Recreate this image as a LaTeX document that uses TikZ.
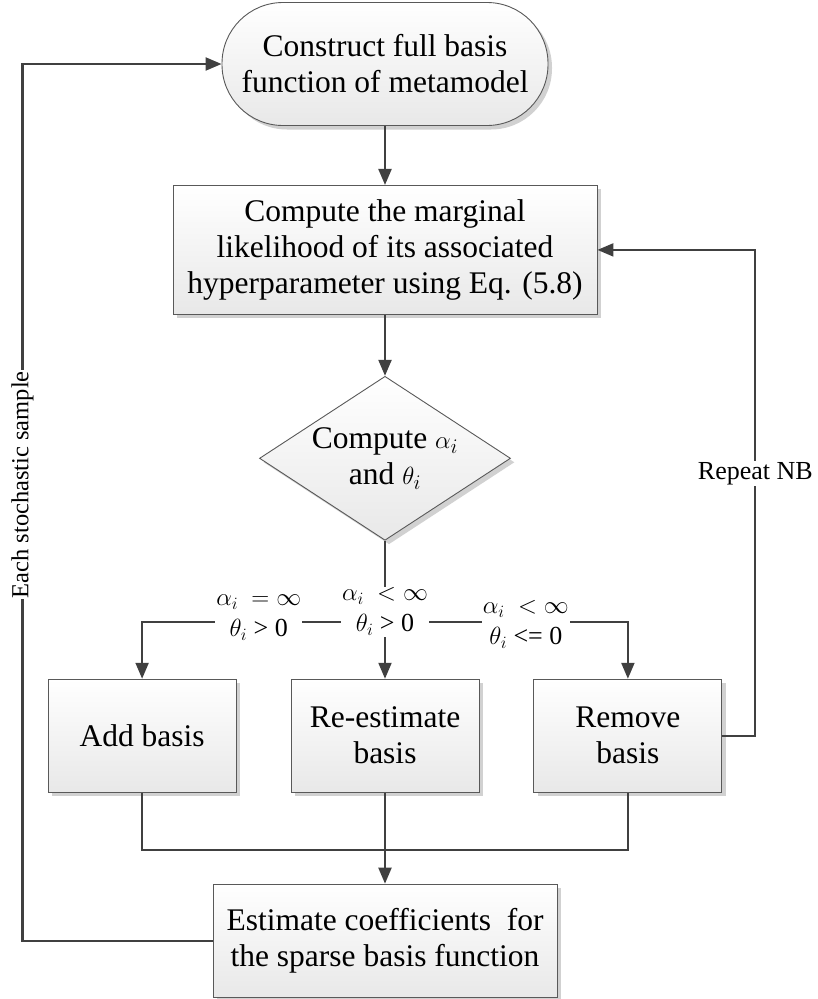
\documentclass[tikz,border=0pt]{standalone}
\usepackage{fontspec}
\setmainfont{Liberation Serif}
\usetikzlibrary{arrows.meta,positioning,shapes.geometric,shadows}

\begin{document}
\begin{tikzpicture}[x=1pt, y=1pt, >={Triangle[length=16pt, width=13pt]},
  line/.style={draw=black!75, line width=2.2pt},
  base/.style={draw=black!65, line width=0.9pt, top color=white, bottom color=black!9, align=center, inner sep=0pt,
    font=\fontsize{31.5}{36}\selectfont, drop shadow={shadow xshift=4pt, shadow yshift=-4pt, fill=black!18, opacity=1}},
  box/.style={base, minimum height=113pt},
  cond/.style={fill=white, inner sep=1pt, align=center, font=\fontsize{26}{31}\selectfont}]
  \useasboundingbox (0,0) rectangle (817,-999);

  \node[base, rounded corners=61pt, minimum width=326pt, minimum height=123pt] (start) at (385,-64) {Construct full basis\\function of metamodel};
  \node[box, minimum width=424pt, minimum height=129pt, below=59pt of start] (lik) {Compute the marginal\\likelihood of its associated\\hyperparameter using Eq. (5.8)};
  \node[base, diamond, aspect=1.53, minimum width=251pt, minimum height=164pt, below=61pt of lik] (dec) {Compute $\alpha_i$\\and $\theta_i$};
  \node[box, minimum width=188pt, below=138pt of dec] (reest) {Re-estimate\\basis};
  \node[box, minimum width=188pt, left=54pt of reest] (add) {Add basis};
  \node[box, minimum width=188pt, right=54pt of reest] (remove) {Remove\\basis};
  \node[box, minimum width=344pt, below=91pt of reest] (coef) {Estimate coefficients~ for\\the sparse basis function};

  % main column
  \draw[line, ->] (start) -- (lik);
  \draw[line, ->] (lik) -- (dec);
  \draw[line] (dec.south) -- ++(0,-81) coordinate (split);
  \draw[line, ->] (split) -| node[cond, pos=0.26, yshift=4pt] {$\alpha_i\ =\infty$\\$\theta_i$ > 0} (add.north);
  \draw[line, ->] (split) -| node[cond, pos=0.29, yshift=-3pt] {$\alpha_i\ <\infty$\\$\theta_i$ <= 0} (remove.north);
  \draw[line, ->] (split) -- (reest.north);
  \node[cond, yshift=10pt] (mid) at (split) {$\alpha_i\ <\infty$\\$\theta_i$ > 0};

  % join the three cases
  \draw[line] (add.south) -- ++(0,-57) -| (remove.south);
  \draw[line, ->] (reest.south) -- (coef.north);

  % loops back
  \draw[line, ->] (remove.east) -- ++(33,0) |- node[cond, pos=0.27] {Repeat NB} (lik.east);
  \draw[line, ->] (coef.west) -- ++(-190,0) |- node[cond, pos=0.26, rotate=90, font=\fontsize{24.5}{28}\selectfont] {Each stochastic sample} (start.west);
\end{tikzpicture}
\end{document}
